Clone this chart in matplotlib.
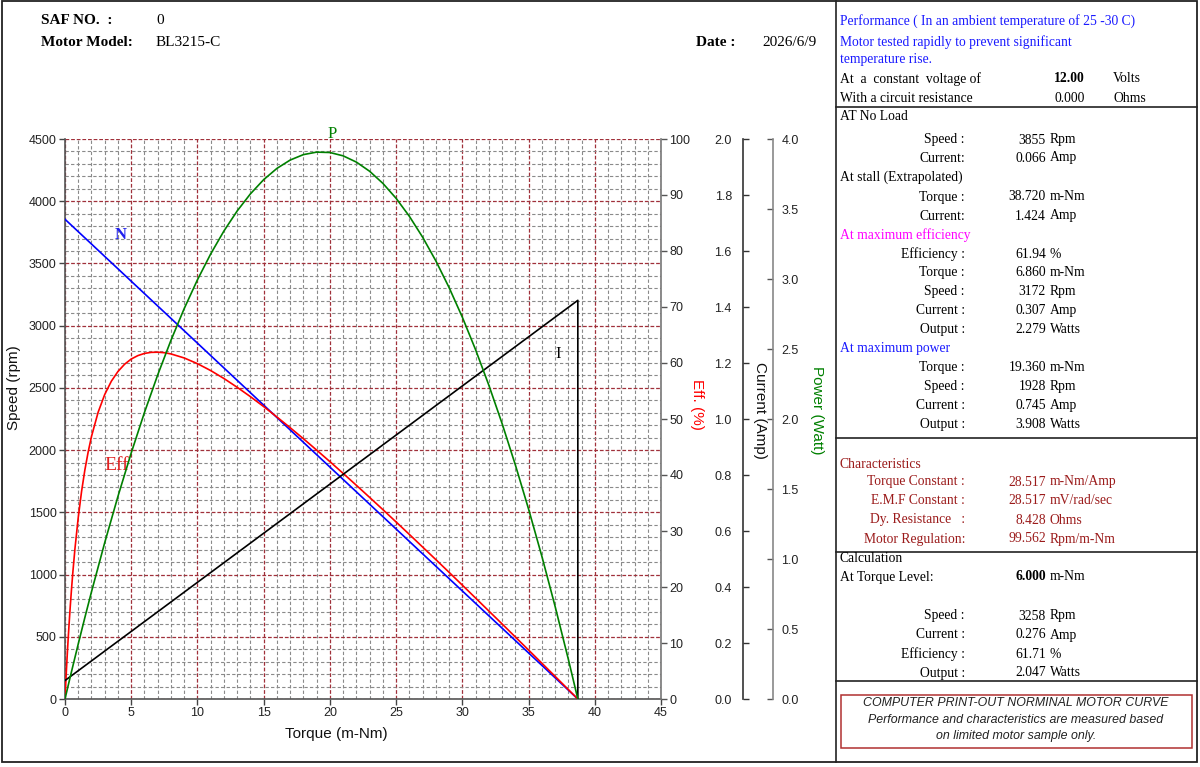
import matplotlib
matplotlib.use('Agg')
import matplotlib.pyplot as plt
from matplotlib.lines import Line2D
from matplotlib.patches import Rectangle
from matplotlib.ticker import FormatStrFormatter
import numpy as np

# ---------------- data ----------------
torque = [0, 0.1, 0.25, 0.5, 1, 1.5, 2, 3, 4, 5, 6, 7, 8, 9, 10, 11, 12, 13, 14,
          15, 16, 17, 18, 19, 20, 21, 22, 23, 24, 25, 26, 27, 28, 29, 30, 31,
          32, 33, 34, 35, 36, 37, 38, 38.72]
speed_rpm = [3855, 3845.0, 3830.1, 3805.2, 3755.4, 3705.7, 3655.9, 3556.3, 3456.8,
             3357.2, 3257.6, 3158.1, 3058.5, 2958.9, 2859.4, 2759.8, 2660.3, 2560.7,
             2461.1, 2361.6, 2262.0, 2162.4, 2062.9, 1963.3, 1863.8, 1764.2, 1664.6,
             1565.1, 1465.5, 1366.0, 1266.4, 1166.8, 1067.3, 967.7, 868.1, 768.6,
             669.0, 569.5, 469.9, 370.3, 270.8, 171.2, 71.7, 0]
current_amp = [0.066, 0.0695, 0.0748, 0.0835, 0.1011, 0.1186, 0.1361, 0.1712, 0.2063,
               0.2413, 0.2764, 0.3115, 0.3465, 0.3816, 0.4167, 0.4517, 0.4868, 0.5219,
               0.5569, 0.5920, 0.6271, 0.6621, 0.6972, 0.7323, 0.7673, 0.8024, 0.8375,
               0.8725, 0.9076, 0.9427, 0.9777, 1.0128, 1.0479, 1.0829, 1.1180, 1.1531,
               1.1881, 1.2232, 1.2583, 1.2933, 1.3284, 1.3635, 1.3985, 1.4238]
power_watt = [0, 0.0403, 0.1003, 0.1992, 0.3933, 0.5821, 0.7657, 1.1172, 1.4480,
              1.7578, 2.0468, 2.3150, 2.5623, 2.7887, 2.9943, 3.1791, 3.3430, 3.4861,
              3.6082, 3.7096, 3.7900, 3.8496, 3.8885, 3.9063, 3.9035, 3.8797, 3.8350,
              3.7696, 3.6832, 3.5762, 3.4480, 3.2990, 3.1295, 2.9388, 2.7272, 2.4951,
              2.2418, 1.9680, 1.6731, 1.3572, 1.0209, 0.6633, 0.2853, 0]
eff_torque = [0, 0.05, 0.1, 0.15, 0.2, 0.25, 0.3, 0.4, 0.5, 0.6, 0.75, 1, 1.25, 1.5,
              1.75, 2, 2.5, 3, 3.5, 4, 4.5, 5, 5.5, 6, 6.5, 7, 7.5, 8, 9, 10, 11, 12,
              13, 14, 15, 16, 17, 18, 19, 20, 21, 22, 23, 24, 25, 26, 27, 28, 29, 30,
              31, 32, 33, 34, 35, 36, 37, 38, 38.72]
eff_pct = [0, 2.48, 4.83, 7.05, 9.17, 11.17, 13.09, 16.64, 19.88, 22.83, 26.81, 32.42,
           37.05, 40.90, 44.13, 46.88, 51.20, 54.38, 56.75, 58.49, 59.78, 60.71, 61.32,
           61.71, 61.90, 61.93, 61.84, 61.62, 60.90, 59.88, 58.65, 57.23, 55.66, 53.99,
           52.22, 50.36, 48.45, 46.48, 44.45, 42.39, 40.29, 38.16, 36.00, 33.82, 31.61,
           29.39, 27.14, 24.89, 22.62, 20.33, 18.03, 15.72, 13.41, 11.08, 8.745, 6.404,
           4.054, 1.700, 0]
stall_torque = 38.72

x_ticks = [0, 5, 10, 15, 20, 25, 30, 35, 40, 45]
speed_ticks = [0, 500, 1000, 1500, 2000, 2500, 3000, 3500, 4000, 4500]
eff_ticks = [0, 10, 20, 30, 40, 50, 60, 70, 80, 90, 100]
current_ticks = [0.0, 0.2, 0.4, 0.6, 0.8, 1.0, 1.2, 1.4, 1.6, 1.8, 2.0]
power_ticks = [0.0, 0.5, 1.0, 1.5, 2.0, 2.5, 3.0, 3.5, 4.0]

# ---------------- figure ----------------
W, H = 1200, 767
plt.rcParams['font.family'] = ['Liberation Sans', 'DejaVu Sans']
fig = plt.figure(figsize=(12, 7.67), dpi=100)
fig.patch.set_facecolor('white')

def fx(x):
    return x / W

def fy(y):
    return 1 - y / H

SERIF = ['Liberation Serif', 'DejaVu Serif']
SANS = ['Liberation Sans', 'DejaVu Sans']
TICK_FS = 9

L, R, T, B = 65, 661, 139, 699
ax = fig.add_axes([fx(L), fy(B), fx(R) - fx(L), fy(T) - fy(B)])
ax.set_xlim(0, 45)
ax.set_ylim(0, 4500)
ax.set_xticks(x_ticks)
ax.set_yticks(speed_ticks)
ax.set_xticks(np.arange(0, 46, 1), minor=True)
ax.set_yticks(np.arange(0, 4501, 100), minor=True)
ax.grid(which='minor', color='#8a8a8a', linestyle=(0, (3, 2)), linewidth=0.8)
ax.grid(which='major', color='#a0303a', linestyle=(0, (3, 1.5)), linewidth=0.9)
ax.tick_params(which='minor', length=0)
ax.tick_params(which='major', length=4, width=1, color='#444444', labelsize=TICK_FS,
               pad=2, labelcolor='#222222')
for s in ['top', 'right']:
    ax.spines[s].set_visible(False)
for s in ['left', 'bottom']:
    ax.spines[s].set_color('#555555')
    ax.spines[s].set_linewidth(1.2)
ax.set_axisbelow(True)

ax.plot(torque, speed_rpm, color='#0000ff', lw=1.2, zorder=5)

# efficiency axis
ax_e = ax.twinx()
ax_e.set_ylim(0, 100)
ax_e.set_yticks(eff_ticks)
for s in ['top', 'left', 'bottom']:
    ax_e.spines[s].set_visible(False)
ax_e.spines['right'].set_color('#777777')
ax_e.spines['right'].set_linewidth(1.2)
ax_e.tick_params(length=4, width=1, color='#555555', labelsize=TICK_FS, pad=2,
                 labelcolor='#222222')
ax_e.plot(eff_torque, eff_pct, color='#ff0000', lw=1.2, zorder=5)

# current axis
ax_c = ax.twinx()
ax_c.set_ylim(0, 2.0)
ax_c.set_yticks(current_ticks)
ax_c.yaxis.set_major_formatter(FormatStrFormatter('%.1f'))
ax_c.yaxis.set_ticks_position('left')
ax_c.spines['left'].set_position(('axes', (743 - L) / (R - L)))
ax_c.spines['left'].set_visible(True)
ax_c.spines['left'].set_color('#333333')
ax_c.spines['left'].set_linewidth(1.2)
for s in ['top', 'right', 'bottom']:
    ax_c.spines[s].set_visible(False)
ax_c.tick_params(direction='in', length=4, width=1, color='#333333', labelsize=TICK_FS,
                 pad=8, labelcolor='#222222')
ax_c.plot(list(torque) + [stall_torque], list(current_amp) + [0], color='black',
          lw=1.2, zorder=5)

# power axis
ax_p = ax.twinx()
ax_p.set_ylim(0, 4.0)
ax_p.set_yticks(power_ticks)
ax_p.yaxis.set_major_formatter(FormatStrFormatter('%.1f'))
ax_p.spines['right'].set_position(('axes', (773 - L) / (R - L)))
ax_p.spines['right'].set_color('#888888')
ax_p.spines['right'].set_linewidth(1.2)
for s in ['top', 'left', 'bottom']:
    ax_p.spines[s].set_visible(False)
ax_p.tick_params(direction='in', length=4, width=1, color='#555555', labelsize=TICK_FS,
                 pad=6, labelcolor='#222222')
ax_p.plot(torque, power_watt, color='#008000', lw=1.2, zorder=5)

# curve labels
ax.text(4.2, 3730, 'N', color='#2020ee', fontsize=12, family=SERIF, weight='bold',
        ha='center', va='center')
ax.text(20.15, 4540, 'P', color='#008000', fontsize=12, family=SERIF,
        ha='center', va='center', clip_on=False)
ax.text(37.2, 2770, 'I', color='black', fontsize=12, family=SERIF,
        ha='center', va='center')
ax.text(3.9, 1880, 'Eff', color='#e02020', fontsize=14, family=SERIF,
        ha='center', va='center')

# axis labels
fig.text(fx(336), fy(734), 'Torque (m-Nm)', fontsize=11, ha='center', va='center',
         color='#111111')
fig.text(fx(14), fy(388), 'Speed (rpm)', fontsize=11, ha='center', va='center',
         rotation=90, color='#111111')
fig.text(fx(697), fy(404), 'Eff. (%)', fontsize=11, ha='center', va='center',
         rotation=-90, color='#ff0000')
fig.text(fx(760), fy(410), 'Current (Amp)', fontsize=11, ha='center', va='center',
         rotation=-90, color='#111111')
fig.text(fx(817), fy(410), 'Power (Watt)', fontsize=11, ha='center', va='center',
         rotation=-90, color='#008000')

# ---------------- frame and panel lines ----------------
def hline(x0, x1, y, **kw):
    fig.add_artist(Line2D([fx(x0), fx(x1)], [fy(y), fy(y)], transform=fig.transFigure,
                          color=kw.get('color', '#222222'), lw=kw.get('lw', 1.2)))

def vline(x, y0, y1, **kw):
    fig.add_artist(Line2D([fx(x), fx(x)], [fy(y0), fy(y1)], transform=fig.transFigure,
                          color=kw.get('color', '#222222'), lw=kw.get('lw', 1.2)))

fig.add_artist(Rectangle((fx(2), fy(762)), fx(1197) - fx(2), fy(1) - fy(762),
                         transform=fig.transFigure, fill=False, lw=1.3, ec='#222222'))
vline(836, 1, 762)
for yy in [107, 438, 552, 681]:
    hline(836, 1197, yy)
fig.add_artist(Rectangle((fx(841), fy(748)), fx(1192) - fx(841), fy(695) - fy(748),
                         transform=fig.transFigure, fill=False, lw=1.1, ec='#b03030'))

PFS = 9.8

def t(x, y, s, ha='left', color='black', weight='normal', size=PFS, style='normal',
      family=None):
    fig.text(fx(x), fy(y), s, ha=ha, va='center', color=color, fontweight=weight,
             fontsize=size, fontstyle=style, family=family or SERIF)

# ---------------- header ----------------
HFS = 11
t(41, 21, 'SAF NO.  :', weight='bold', size=HFS)
t(156, 21, '0', size=HFS)
t(41, 42, 'Motor Model:', weight='bold', size=HFS)
t(156, 42, 'BL3215-C', size=HFS)
t(696, 42, 'Date :', weight='bold', size=HFS)
t(762, 42, '2026/6/9', size=HFS)

# ---------------- right panel ----------------
BLUE = '#1a1aff'
MAG = '#ff00ff'
DRED = '#9b1b1b'
t(840, 21, 'Performance ( In an ambient temperature of 25 -30 C)', color=BLUE)
t(840, 42, 'Motor tested rapidly to prevent significant', color=BLUE)
t(840, 60, 'temperature rise.', color=BLUE)
t(840, 79, 'At  a  constant  voltage of')
t(1085, 79, '12.00', ha='right', weight='bold')
t(1113, 79, 'Volts')
t(840, 98, 'With a circuit resistance')
t(1085, 98, '0.000', ha='right')
t(1113, 98, 'Ohms')

LX, NX, UX = 965, 1046, 1050

def row(y, label, num, unit, color='black', weight='normal'):
    t(LX, y, label, ha='right', color=color)
    t(NX, y, num, ha='right', color=color, weight=weight)
    t(UX, y, unit, color=color)

t(840, 117, 'AT No Load')
row(140, 'Speed :', '3855', 'Rpm')
row(158, 'Current:', '0.066', 'Amp')
t(840, 177, 'At stall (Extrapolated)')
row(197, 'Torque :', '38.720', 'm-Nm')
row(216, 'Current:', '1.424', 'Amp')
t(840, 235, 'At maximum efficiency', color=MAG)
row(254, 'Efficiency :', '61.94', '%')
row(273, 'Torque :', '6.860', 'm-Nm')
row(292, 'Speed :', '3172', 'Rpm')
row(311, 'Current :', '0.307', 'Amp')
row(330, 'Output :', '2.279', 'Watts')
t(840, 349, 'At maximum power', color=BLUE)
row(368, 'Torque :', '19.360', 'm-Nm')
row(387, 'Speed :', '1928', 'Rpm')
row(406, 'Current :', '0.745', 'Amp')
row(425, 'Output :', '3.908', 'Watts')

t(840, 464, 'Characteristics', color=DRED)
row(482, 'Torque Constant :', '28.517', 'm-Nm/Amp', color=DRED)
row(501, 'E.M.F Constant :', '28.517', 'mV/rad/sec', color=DRED)
row(520, 'Dy. Resistance   :', '8.428', 'Ohms', color=DRED)
row(539, 'Motor Regulation:', '99.562', 'Rpm/m-Nm', color=DRED)

t(840, 558, 'Calculation')
t(840, 577, 'At Torque Level:')
t(NX, 577, '6.000', ha='right', weight='bold')
t(UX, 577, 'm-Nm')
row(616, 'Speed :', '3258', 'Rpm')
row(635, 'Current :', '0.276', 'Amp')
row(654, 'Efficiency :', '61.71', '%')
row(673, 'Output :', '2.047', 'Watts')

BFS = 8.9
t(1016, 703, 'COMPUTER PRINT-OUT NORMINAL MOTOR CURVE', ha='center', style='italic',
  size=BFS, family=SANS, color='#222222')
t(1016, 720, 'Performance and characteristics are measured based', ha='center',
  style='italic', size=BFS, family=SANS, color='#222222')
t(1016, 736, 'on limited motor sample only.', ha='center', style='italic', size=BFS,
  family=SANS, color='#222222')

fig.savefig('out.png', dpi=100)
